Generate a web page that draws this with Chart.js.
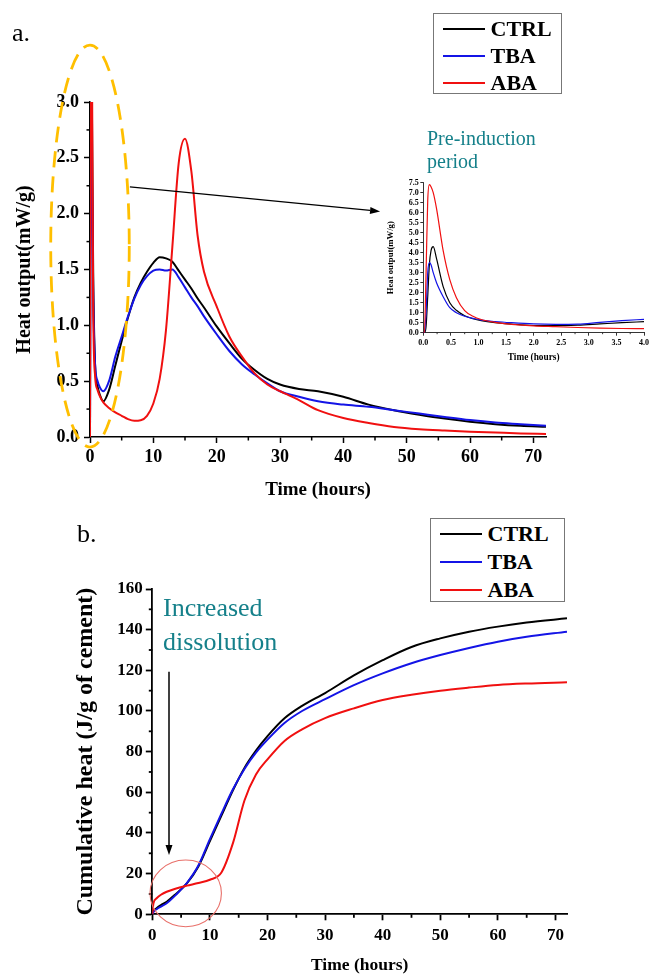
<!DOCTYPE html>
<html lang="en">
<head>
<meta charset="UTF-8">
<title>Heat output and cumulative heat - CTRL / TBA / ABA</title>
<script src="https://cdn.jsdelivr.net/npm/chart.js"></script>
<style>
  body {margin: 0; width: 651px; height: 975px; overflow: hidden; position: relative; background: #fff; font-family: 'Liberation Serif', serif; color: #000;}
  canvas {position: absolute;}
  .txt {position: absolute; white-space: nowrap; line-height: 1;}
  .note {position: absolute; white-space: nowrap; color: #15808a;}
  .legend {position: absolute; border: 1.5px solid #777; box-sizing: border-box; background: #fff;}
  .legend .ln {position: absolute; width: 42px; height: 2px;}
  .legend .lb {position: absolute; font-weight: bold; font-size: 22px; line-height: 22px; white-space: nowrap;}
</style>
</head>
<body>
  <canvas id="chartA" width="651" height="500" style="left:0;top:0"></canvas>
  <canvas id="chartInset" width="271" height="200" style="left:380px;top:170px"></canvas>
  <canvas id="chartB" width="651" height="475" style="left:0;top:500px"></canvas>

  <div class="txt" style="left:12px;top:20px;font-size:26px">a.</div>
  <div class="txt" style="left:77px;top:521px;font-size:26px">b.</div>
  <div class="note" style="left:427px;top:127px;font-size:20px;line-height:23.3px">Pre-induction<br>period</div>
  <div class="note" style="left:163px;top:591px;font-size:26px;line-height:34px">Increased<br>dissolution</div>

  <div class="legend" id="legendA" style="left:433px;top:13px;width:129px;height:81px"></div>
  <div class="legend" id="legendB" style="left:430px;top:518px;width:135px;height:84px"></div>

  <script>
    const seriesNames = ['CTRL', 'TBA', 'ABA'];
    const seriesColors = ['#000000', '#1414e6', '#f01010'];
    const drawOrder = [2, 1, 0]; // ABA drawn on top

    // a. heat flow, 0-72 h
    const hoursA = [0, 0.05, 0.1, 0.15, 0.3, 0.5, 0.8, 1.2, 1.6, 2.1, 3, 4, 5, 6, 7, 8, 9, 10, 11, 12, 13, 14, 15, 16, 17, 18, 20, 22, 24, 26, 28, 30, 33, 36, 40, 44, 48, 52, 56, 60, 64, 68, 72];
    const ctrlA = [0, 1.5, 3.8, 4.3, 3.0, 1.5, 0.65, 0.45, 0.37, 0.32, 0.42, 0.64, 0.86, 1.07, 1.25, 1.38, 1.48, 1.56, 1.61, 1.6, 1.57, 1.49, 1.41, 1.33, 1.24, 1.16, 0.99, 0.84, 0.7, 0.6, 0.52, 0.47, 0.43, 0.41, 0.36, 0.29, 0.24, 0.2, 0.165, 0.137, 0.115, 0.1, 0.092];
    const tbaA = [0, 1.2, 3.3, 3.5, 2.4, 1.3, 0.65, 0.5, 0.44, 0.41, 0.5, 0.72, 0.9, 1.08, 1.24, 1.36, 1.44, 1.49, 1.5, 1.49, 1.5, 1.43, 1.34, 1.25, 1.17, 1.08, 0.92, 0.77, 0.65, 0.56, 0.48, 0.41, 0.36, 0.32, 0.29, 0.27, 0.24, 0.21, 0.18, 0.152, 0.13, 0.115, 0.1];
    const abaA = [0, 2, 7.4, 6.8, 3.5, 1.2, 0.55, 0.42, 0.36, 0.31, 0.26, 0.22, 0.19, 0.16, 0.145, 0.15, 0.19, 0.3, 0.52, 0.96, 1.7, 2.45, 2.67, 2.38, 1.8, 1.48, 1.17, 0.9, 0.72, 0.57, 0.47, 0.41, 0.33, 0.24, 0.17, 0.125, 0.09, 0.07, 0.058, 0.048, 0.04, 0.032, 0.027];

    // inset: pre-induction period, 0-4 h
    const hoursInset = [0, 0.02, 0.05, 0.08, 0.11, 0.14, 0.18, 0.24, 0.36, 0.48, 0.6, 0.75, 0.9, 1.05, 1.3, 1.6, 2.0, 2.4, 2.8, 3.2, 3.6, 4.0];
    const ctrlInset = [0, 0, 0.3, 1.8, 3.4, 4.1, 4.3, 3.7, 2.3, 1.5, 1.12, 0.85, 0.7, 0.6, 0.5, 0.43, 0.36, 0.35, 0.38, 0.44, 0.5, 0.55];
    const tbaInset = [0, 0, 1.0, 3.0, 3.5, 3.4, 3.0, 2.5, 1.8, 1.25, 1.0, 0.82, 0.72, 0.63, 0.56, 0.5, 0.44, 0.42, 0.43, 0.52, 0.6, 0.67];
    const abaInset = [0, 0, 3.0, 6.6, 7.4, 7.3, 7.0, 6.2, 4.1, 2.65, 1.75, 1.1, 0.82, 0.66, 0.52, 0.42, 0.34, 0.3, 0.26, 0.23, 0.21, 0.2];

    // b. cumulative heat
    const hoursB = [0, 0.2, 0.75, 1.5, 2.5, 4, 6, 8, 10, 12, 14, 16, 18, 20, 23, 26, 30, 35, 40, 45, 50, 55, 60, 65, 72];
    const ctrlB = [0, 1.5, 3, 4.5, 6.2, 9.8, 15.2, 23.5, 36, 48.5, 61, 72, 80.5, 87.6, 96.5, 102.5, 108.8, 117.5, 125, 131.5, 135.7, 139, 141.5, 143.5, 145.6];
    const tbaB = [0, 1.2, 2.5, 3.8, 5.4, 9.3, 15.4, 24, 37, 49.5, 61.5, 71.5, 79.5, 85.9, 94.2, 100, 105.8, 112.7, 118.5, 123.5, 127.5, 131, 134.1, 136.5, 139];
    const abaB = [0, 5.4, 7.9, 9.6, 11.1, 12.6, 14.1, 15.4, 17, 20.6, 35, 56, 68.8, 76.2, 85.4, 91, 96.5, 101.3, 105.4, 108, 110, 111.5, 112.8, 113.5, 114.1];

    Chart.defaults.font.family = 'Liberation Serif';
    Chart.defaults.color = '#000';

    function pts(xs, ys) { return xs.map((x, i) => ({x: x, y: ys[i]})); }

    function lines(xs, sets, width) {
      return sets.map((ys, i) => ({
        label: seriesNames[i], data: pts(xs, ys), borderColor: seriesColors[i], borderWidth: width,
        pointRadius: 0, fill: false, cubicInterpolationMode: 'monotone', order: drawOrder[i]
      }));
    }

    function axis(o) {
      return {
        type: 'linear', min: o.min, max: o.max,
        border: {display: true, color: '#000', width: o.bw},
        grid: {drawOnChartArea: false, drawTicks: true, tickLength: o.tl, tickColor: '#000', tickWidth: o.bw},
        ticks: {stepSize: o.step, includeBounds: false, autoSkip: false, maxRotation: 0, padding: o.pad, color: '#000',
                font: {family: 'Liberation Serif', weight: 'bold', size: o.fs}, callback: o.fmt},
        title: {display: true, text: o.title, color: '#000',
                font: {family: 'Liberation Serif', weight: 'bold', size: o.ts, lineHeight: 1}, padding: o.tpad},
        afterFit: o.fit
      };
    }

    // shorter unlabeled ticks between the labelled ones
    const minorTicks = {
      id: 'minorTicks',
      afterDraw(chart, args, opts) {
        const ctx = chart.ctx;
        ctx.save();
        ctx.strokeStyle = '#000';
        ctx.lineWidth = opts.width;
        ['x', 'y'].forEach(id => {
          const step = opts[id];
          if (!step) return;
          const s = chart.scales[id];
          const major = s.options.ticks.stepSize;
          for (let v = s.min; v <= s.max + 1e-9; v += step) {
            const r = v / major;
            if (Math.abs(r - Math.round(r)) < 1e-6) continue;
            const p = s.getPixelForValue(v);
            ctx.beginPath();
            if (id === 'x') { ctx.moveTo(p, s.top); ctx.lineTo(p, s.top + opts.len); }
            else { ctx.moveTo(s.right - opts.len, p); ctx.lineTo(s.right, p); }
            ctx.stroke();
          }
        });
        ctx.restore();
      }
    };

    function arrow(ctx, x1, y1, x2, y2, w) {
      const a = Math.atan2(y2 - y1, x2 - x1), hl = 10, hw = 3.5;
      const bx = x2 - hl * Math.cos(a), by = y2 - hl * Math.sin(a);
      ctx.strokeStyle = '#000'; ctx.fillStyle = '#000'; ctx.lineWidth = w;
      ctx.beginPath(); ctx.moveTo(x1, y1); ctx.lineTo(bx, by); ctx.stroke();
      ctx.beginPath();
      ctx.moveTo(x2, y2);
      ctx.lineTo(bx + hw * Math.sin(a), by - hw * Math.cos(a));
      ctx.lineTo(bx - hw * Math.sin(a), by + hw * Math.cos(a));
      ctx.closePath(); ctx.fill();
    }

    const notesA = {
      id: 'notesA',
      afterDraw(chart) {
        const {ctx, scales: {x, y}} = chart;
        ctx.save();
        const cx = x.getPixelForValue(0), cy = y.getPixelForValue(1.71);
        ctx.strokeStyle = '#ffbf00'; ctx.lineWidth = 2.8; ctx.setLineDash([16, 9]);
        ctx.beginPath();
        ctx.ellipse(cx, cy, x.getPixelForValue(6.2) - cx, y.getPixelForValue(-0.09) - cy, 0, 0, Math.PI * 2);
        ctx.stroke();
        ctx.setLineDash([]);
        arrow(ctx, x.getPixelForValue(6.3), y.getPixelForValue(2.24), x.getPixelForValue(45.8), y.getPixelForValue(2.02), 1.3);
        ctx.restore();
      }
    };

    const notesB = {
      id: 'notesB',
      afterDraw(chart) {
        const {ctx, scales: {x, y}} = chart;
        ctx.save();
        arrow(ctx, x.getPixelForValue(2.9), y.getPixelForValue(119.3), x.getPixelForValue(2.9), y.getPixelForValue(29.2), 1.5);
        const cx = x.getPixelForValue(5.8), cy = y.getPixelForValue(10.3);
        ctx.strokeStyle = '#e8706a'; ctx.lineWidth = 1.1;
        ctx.beginPath();
        ctx.ellipse(cx, cy, x.getPixelForValue(12) - cx, y.getPixelForValue(-6.1) - cy, 0, 0, Math.PI * 2);
        ctx.stroke();
        ctx.restore();
      }
    };

    const one = v => v.toFixed(1);

    new Chart(document.getElementById('chartA'), {
      type: 'line',
      data: {datasets: lines(hoursA, [ctrlA, tbaA, abaA], 2)},
      options: {
        responsive: false, animation: false, devicePixelRatio: 1,
        layout: {padding: {left: 0, top: 102, right: 105, bottom: 0}},
        plugins: {legend: {display: false}, tooltip: {enabled: false}, minorTicks: {x: 5, y: 0.25, len: 3.5, width: 1.5}},
        scales: {
          x: axis({min: 0, max: 72, step: 10, bw: 1.5, tl: 6, pad: 4, fs: 18, fmt: v => v,
                   title: 'Time (hours)', ts: 19, tpad: {top: 0, bottom: 0.5}, fit: s => { s.height = 63; }}),
          y: axis({min: 0, max: 3, step: 0.5, bw: 1.5, tl: 6, pad: 5, fs: 18, fmt: one,
                   title: 'Heat output(mW/g)', ts: 20, tpad: {top: 14.5, bottom: 0}, fit: s => { s.width = 90; }})
        }
      },
      plugins: [minorTicks, notesA]
    });

    new Chart(document.getElementById('chartInset'), {
      type: 'line',
      data: {datasets: lines(hoursInset, [ctrlInset, tbaInset, abaInset], 1.2)},
      options: {
        responsive: false, animation: false, devicePixelRatio: 1,
        layout: {padding: {left: 0, top: 12.7, right: 6.7, bottom: 0}},
        plugins: {legend: {display: false}, tooltip: {enabled: false}, minorTicks: {x: 0.25, len: 1.5, width: 0.8}},
        scales: {
          x: axis({min: 0, max: 4, step: 0.5, bw: 0.8, tl: 3, pad: 2, fs: 8, fmt: one,
                   title: 'Time (hours)', ts: 9.3, tpad: {top: 0, bottom: 7.6}, fit: s => { s.height = 37.3; }}),
          y: axis({min: 0, max: 7.5, step: 0.5, bw: 0.8, tl: 3, pad: 1.5, fs: 8, fmt: one,
                   title: 'Heat output(mW/g)', ts: 8.7, tpad: {top: 6.3, bottom: 0}, fit: s => { s.width = 43.3; }})
        }
      },
      plugins: [minorTicks]
    });

    new Chart(document.getElementById('chartB'), {
      type: 'line',
      data: {datasets: lines(hoursB, [ctrlB, tbaB, abaB], 2)},
      options: {
        responsive: false, animation: false, devicePixelRatio: 1,
        layout: {padding: {left: 0, top: 89, right: 84, bottom: 0}},
        plugins: {legend: {display: false}, tooltip: {enabled: false}, minorTicks: {x: 5, y: 10, len: 3.5, width: 1.8}},
        scales: {
          x: axis({min: 0, max: 72, step: 10, bw: 1.8, tl: 6, pad: 5, fs: 17, fmt: v => v,
                   title: 'Time (hours)', ts: 17.5, tpad: {top: 0, bottom: 0.8}, fit: s => { s.height = 60.7; }}),
          y: axis({min: 0, max: 160, step: 20, bw: 1.8, tl: 6.5, pad: 3, fs: 17, fmt: v => v,
                   title: 'Cumulative heat (J/g of cement)', ts: 24, tpad: {top: 73.8, bottom: 0}, fit: s => { s.width = 152.3; }})
        }
      },
      plugins: [minorTicks, notesB]
    });

    // legend boxes: rows built from the series names/colours
    function buildLegend(id, rowsY) {
      const box = document.getElementById(id);
      seriesNames.forEach((name, i) => {
        const ln = document.createElement('div');
        ln.className = 'ln';
        ln.style.left = '8.5px';
        ln.style.top = (rowsY[i] - 1) + 'px';
        ln.style.background = seriesColors[i];
        const lb = document.createElement('div');
        lb.className = 'lb';
        lb.style.left = '56.5px';
        lb.style.top = (rowsY[i] - 11) + 'px';
        lb.textContent = name;
        box.appendChild(ln);
        box.appendChild(lb);
      });
    }
    buildLegend('legendA', [14.8, 41.5, 68.8]);
    buildLegend('legendB', [14.5, 43.2, 71.2]);
  </script>
</body>
</html>
